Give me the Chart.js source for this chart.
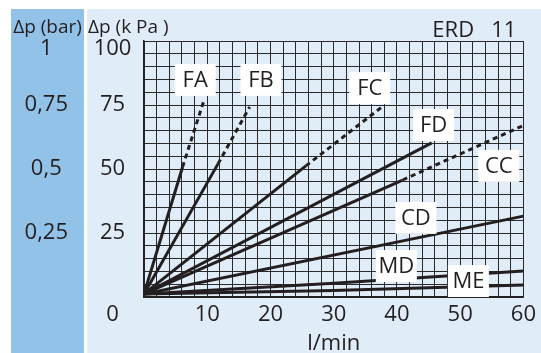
<!DOCTYPE html>
<html><head><meta charset="utf-8">
<script src="https://cdn.jsdelivr.net/npm/chart.js@4"></script>
<style>html,body{margin:0;padding:0;background:#fff;}canvas{display:block;}</style>
</head><body>
<canvas id="c" width="541" height="353"></canvas>
<script>
// ---- data ----
const curveNames = ['FA', 'FB', 'FC', 'FD', 'CC', 'CD', 'MD', 'ME'];
const flowFA = [0, 6.1, 9.4];   const dpFA = [1.2, 50.8, 76.2];
const flowFB = [0, 11.7, 16.7]; const dpFB = [1.2, 52.0, 74.2];
const flowFC = [0, 25.6, 37.6]; const dpFC = [1.2, 51.2, 74.2];
const flowFD = [0, 45.5];       const dpFD = [1.2, 60.2];
const flowCC = [0, 40.9, 59.8]; const dpCC = [1.2, 45.7, 66.8];
const flowCD = [0, 60];         const dpCD = [1.2, 31.6];
const flowMD = [0, 30, 60];     const dpMD = [1.2, 5.4, 10.2];
const flowME = [0, 30, 60];     const dpME = [1.2, 2.5, 4.7];
// number of leading points joined by a solid line (the rest is dotted)
const solidPoints = [2, 2, 2, 2, 2, 2, 3, 3];
const xTickLabels = [10, 20, 30, 40, 50, 60];
const kpaTickLabels = [25, 50, 75, 100];
const barTickLabels = ['0,25', '0,5', '0,75', '1'];

// ---- layout (label anchors in data units) ----
const labelFlow = [8.1, 18.5, 35.7, 45.8, 56.1, 43.0, 39.9, 51.3];
const labelDp   = [84.8, 84.8, 81.6, 67.2, 51.2, 30.9, 12.1, 6.25];

const flows = [flowFA, flowFB, flowFC, flowFD, flowCC, flowCD, flowMD, flowME];
const dps   = [dpFA, dpFB, dpFC, dpFD, dpCC, dpCD, dpMD, dpME];
const INK = '#231f20';
const FONT = 'Open Sans';

const datasets = curveNames.map((name, i) => ({
  label: name,
  data: flows[i].map((x, j) => ({x: x, y: dps[i][j]})),
  borderColor: INK,
  borderWidth: 3,
  pointRadius: 0,
  fill: false,
  tension: 0,
  segment: {
    borderDash: ctx => ctx.p0DataIndex >= solidPoints[i] - 1 ? [5, 4] : undefined
  }
}));

const bgPlugin = {
  id: 'bg',
  beforeDraw(chart) {
    const c = chart.ctx;
    const y2 = chart.scales.y2, y = chart.scales.y;
    c.save();
    c.fillStyle = '#ffffff';
    c.fillRect(0, 0, chart.width, chart.height);
    c.fillStyle = '#93c2e8';
    c.fillRect(y2.left, 9, y2.width - 3, chart.height - 9);
    c.fillStyle = '#e0ecf8';
    c.fillRect(y.left, 9, chart.width - y.left, chart.height - 9);
    c.restore();
  }
};

const textPlugin = {
  id: 'texts',
  afterDatasetsDraw(chart) {
    const c = chart.ctx;
    const xs = chart.scales.x, ys = chart.scales.y;
    c.save();
    c.font = '22px "' + FONT + '"';
    c.textAlign = 'center';
    c.textBaseline = 'middle';
    curveNames.forEach((name, i) => {
      const px = xs.getPixelForValue(labelFlow[i]);
      const py = ys.getPixelForValue(labelDp[i]);
      c.fillStyle = '#ffffff';
      c.fillRect(px - 20.5, py - 16, 41, 32);
      c.fillStyle = INK;
      c.fillText(name, px, py + 1);
    });
    c.restore();
  },
  afterDraw(chart) {
    const c = chart.ctx;
    const xs = chart.scales.x, ys = chart.scales.y, y2 = chart.scales.y2;
    c.save();
    c.fillStyle = INK;
    c.font = '19px "' + FONT + '"';
    c.textBaseline = 'alphabetic';
    c.textAlign = 'center';
    c.fillText('Δp (bar)', (y2.left + y2.right - 3) / 2, 33);
    c.textAlign = 'left';
    c.fillText('Δp (k Pa )', ys.left + 1, 33);
    c.font = '22px "' + FONT + '"';
    c.textAlign = 'right';
    c.fillText('ERD   11', chart.chartArea.right - 7, 37);
    c.textAlign = 'center';
    c.textBaseline = 'middle';
    c.fillText('0', ys.right - 31.5, xs.top + 18);
    c.restore();
  }
};

new Chart(document.getElementById('c'), {
  type: 'line',
  data: {datasets: datasets},
  options: {
    responsive: false,
    animation: false,
    events: [],
    layout: {padding: {left: 11, right: 12, top: 41, bottom: 0}},
    plugins: {legend: {display: false}, tooltip: {enabled: false}},
    scales: {
      x: {
        type: 'linear', min: 0, max: 60,
        grid: {color: '#2a2a2a', lineWidth: 1, drawTicks: false},
        border: {display: true, color: INK, width: 1.5},
        ticks: {
          stepSize: 2, autoSkip: false, maxRotation: 0, padding: 5, color: INK,
          font: {family: FONT, size: 22},
          callback: v => xTickLabels.includes(v) ? String(v) : ''
        },
        title: {display: true, text: 'l/min', color: INK,
          font: {family: FONT, size: 22, lineHeight: 1}, padding: {top: 0, bottom: -2}},
        afterFit: s => { s.height = 56; }
      },
      y: {
        type: 'linear', min: 0, max: 100, position: 'left', weight: 0,
        grid: {color: '#2a2a2a', lineWidth: 1, drawTicks: false},
        border: {display: true, color: INK, width: 1.5},
        ticks: {
          stepSize: 5, autoSkip: false, padding: 12.6, crossAlign: 'center', color: INK,
          font: ctx => ({family: FONT, size: 22,
            lineHeight: (ctx.tick && ctx.tick.value === 100) ? '15px' : 1.2}),
          callback: v => v === 100 ? ['', '100'] : (kpaTickLabels.includes(v) ? String(v) : '')
        },
        afterFit: s => { s.width = 57; }
      },
      y2: {
        type: 'linear', min: 0, max: 1, position: 'left', weight: 1,
        grid: {display: false, drawTicks: false},
        border: {display: false},
        ticks: {
          stepSize: 0.25, autoSkip: false, padding: 19, crossAlign: 'center', color: INK,
          font: ctx => ({family: FONT, size: 22,
            lineHeight: (ctx.tick && ctx.tick.value === 1) ? '15px' : 1.2}),
          callback: v => {
            const k = Math.round(v * 4);
            if (k === 0) return '';
            const t = barTickLabels[k - 1];
            return k === 4 ? ['', t] : t;
          }
        },
        afterFit: s => { s.width = 76; }
      }
    }
  },
  plugins: [bgPlugin, textPlugin]
});
</script>
</body></html>
